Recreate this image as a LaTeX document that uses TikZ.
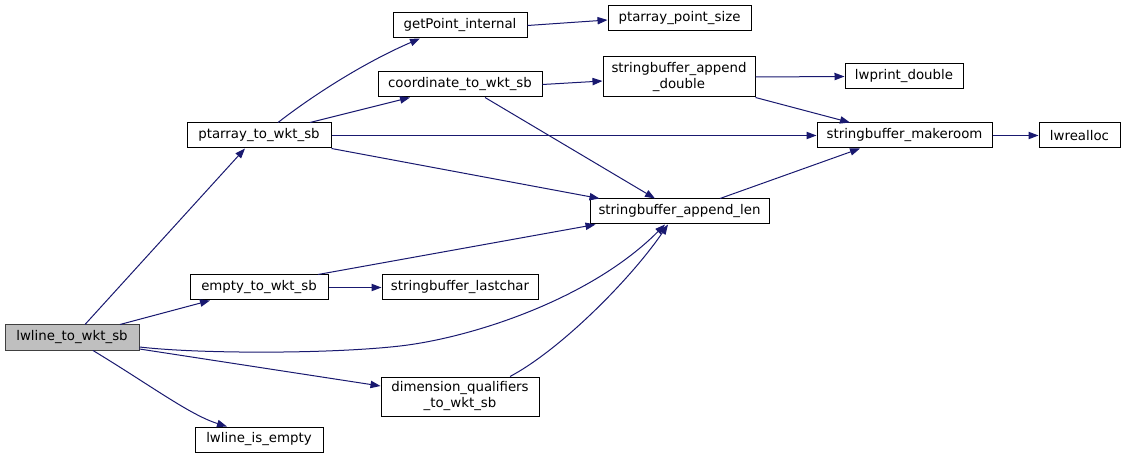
\documentclass[tikz,border=0pt]{standalone}
\usepackage{fontspec}
\setmainfont{DejaVu Sans}
\usetikzlibrary{calc,arrows.meta}
\definecolor{edgecol}{HTML}{191970}
\definecolor{rootfill}{HTML}{BFBFBF}
\definecolor{rootdraw}{HTML}{404040}
\begin{document}
\begin{tikzpicture}[x=0.75pt,y=-0.75pt,
  box/.style={draw=black,line width=0.75pt,fill=white,inner sep=0pt,minimum height=18.75pt,
    align=center,font=\fontsize{10}{12}\selectfont},
  rootbox/.style={box,fill=rootfill,draw=rootdraw},
  edge/.style={draw=edgecol,line width=0.75pt,-{Triangle[length=7.5pt,width=5.5pt]}}]
\useasboundingbox (0,0) rectangle (1127,459);
\fill[white] (0,0) rectangle (1127,459);
% nodes
\node[rootbox,minimum width=100.5pt] (lw) at (72,337.5) {lwline\_to\_wkt\_sb};
\node[box,minimum width=96pt] (ie) at (259,439.5) {lwline\_is\_empty};
\node[box,minimum width=103.5pt] (em) at (259,287.5) {empty\_to\_wkt\_sb};
\node[box,minimum width=108pt] (pt) at (259,135.5) {ptarray\_to\_wkt\_sb};
\node[box,minimum width=118.5pt,minimum height=29.25pt] (dq) at (460,396.5) {dimension\_qualifiers\\\_to\_wkt\_sb};
\node[box,minimum width=117pt] (lc) at (460,287.5) {stringbuffer\_lastchar};
\node[box,minimum width=123pt] (co) at (460,84.5) {coordinate\_to\_wkt\_sb};
\node[box,minimum width=100.5pt] (gp) at (460,25.5) {getPoint\_internal};
\node[box,minimum width=107.25pt] (ps) at (679.5,18.5) {ptarray\_point\_size};
\node[box,minimum width=114pt,minimum height=30pt] (ad) at (679,77) {stringbuffer\_append\\\_double};
\node[box,minimum width=134.25pt] (al) at (679.5,211.5) {stringbuffer\_append\_len};
\node[box,minimum width=88.5pt] (lp) at (904,76.5) {lwprint\_double};
\node[box,minimum width=131.25pt] (mr) at (904.5,135.5) {stringbuffer\_makeroom};
\node[box,minimum width=60.75pt] (rl) at (1079.5,135.5) {lwrealloc};
% edges
\draw[edge] ($(lw.north)+(13,0)$) -- ($(pt.south)+(-14,0)$);
\draw[edge] ($(lw.north)+(48,0)$) -- ($(em.south)+(-49,0)$);
\draw[edge] ($(lw.east)+(0,9.5)$) .. controls (200,354) and (330,354) .. (400,346)
  .. controls (470,338) and (590,300) .. ($(al.south)+(-14.5,0)$);
\draw[edge] ($(lw.east)+(0,11.5)$) -- ($(dq.west)+(0,-10.5)$);
\draw[edge] ($(lw.south)+(21,0)$) .. controls (150,385) and (190,415) .. ($(ie.north)+(-32,0)$);
\draw[edge] ($(pt.north)+(19,0)$) .. controls (320,90) and (370,60) .. ($(gp.south)+(-40,0)$);
\draw[edge] ($(pt.north)+(51,0)$) -- ($(co.south)+(-50,0)$);
\draw[edge] (pt.east) -- (mr.west);
\draw[edge] (pt.south east) -- ($(al.north west)+(10,0)$);
\draw[edge] (co.east) -- ($(ad.west)+(0,4)$);
\draw[edge] ($(co.south)+(25,0)$) -- ($(al.north)+(-24.5,0)$);
\draw[edge] (gp.east) -- ($(ps.west)+(0,1.5)$);
\draw[edge] (ad.east) -- (lp.west);
\draw[edge] (ad.south east) -- ($(mr.north)+(-54.5,0)$);
\draw[edge] ($(al.north)+(40.5,0)$) -- ($(mr.south)+(-44.5,0)$);
\draw[edge] ($(em.north)+(59,0)$) -- ($(al.south west)+(6,0)$);
\draw[edge] (em.east) -- (lc.west);
\draw[edge] ($(dq.north)+(50,0)$) .. controls (560,350) and (630,280) .. ($(al.south)+(-11.5,0)$);
\draw[edge] (mr.east) -- (rl.west);
\end{tikzpicture}
\end{document}
